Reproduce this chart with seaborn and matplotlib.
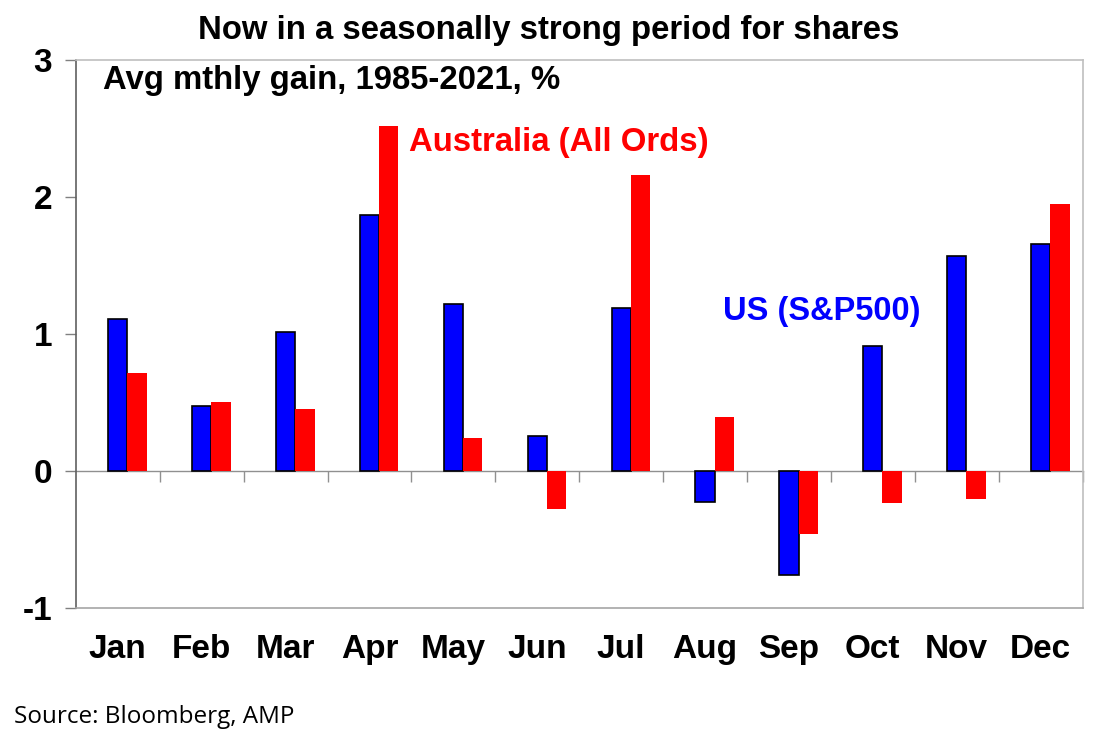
import numpy as np
import pandas as pd
import matplotlib
matplotlib.use("Agg")
import matplotlib.pyplot as plt
import seaborn as sns

months = ["Jan", "Feb", "Mar", "Apr", "May", "Jun", "Jul", "Aug", "Sep", "Oct", "Nov", "Dec"]
us_sp500 = [1.11, 0.47, 1.01, 1.87, 1.22, 0.25, 1.185, -0.23, -0.76, 0.91, 1.57, 1.655]
au_allords = [0.71, 0.50, 0.45, 2.52, 0.24, -0.28, 2.16, 0.39, -0.46, -0.24, -0.21, 1.95]
yticks = [-1, 0, 1, 2, 3]

US_LBL = "US (S&P500)"
AU_LBL = "Australia (All Ords)"
PAD = "_pad"

df = pd.concat([
    pd.DataFrame({"month": months, "series": PAD, "value": 0.0}),
    pd.DataFrame({"month": months, "series": US_LBL, "value": us_sp500}),
    pd.DataFrame({"month": months, "series": AU_LBL, "value": au_allords}),
], ignore_index=True)

sns.set_theme(style="white")
plt.rcParams["font.family"] = ["Liberation Sans", "DejaVu Sans"]

fig = plt.figure(figsize=(11.16, 7.5), dpi=100)
ax = fig.add_axes([0.068, 0.19, 0.902, 0.73])

sns.barplot(data=df, x="month", y="value", hue="series",
            hue_order=[PAD, US_LBL, AU_LBL],
            palette=["white", "#0000FF", "#FF0000"],
            width=0.69, dodge=True, saturation=1, errorbar=None,
            legend=False, ax=ax)

# remove the padding series, style edges
for p in list(ax.containers[0]):
    p.remove()
for p in ax.containers[1]:
    p.set_edgecolor("black")
    p.set_linewidth(1.2)
for p in ax.containers[2]:
    p.set_linewidth(0)

ax.set_xlim(-0.5, 11.5)
ax.set_ylim(-1, 3)
ax.set_yticks(yticks)
ax.set_yticklabels([str(v) for v in yticks], fontsize=24, fontweight="bold", color="black")
ax.set_xticks(range(len(months)))
ax.set_xticklabels(months, fontsize=24, fontweight="bold", color="black")
ax.set_xlabel("")
ax.set_ylabel("")
ax.tick_params(axis="y", direction="out", length=8, width=1, color="#808080", pad=9, left=True)
ax.tick_params(axis="x", length=0, pad=19)

for s in ["top", "right"]:
    ax.spines[s].set_color("#BFBFBF")
    ax.spines[s].set_linewidth(1.2)
ax.spines["left"].set_color("#606060")
ax.spines["left"].set_linewidth(1.2)
ax.spines["bottom"].set_color("#A6A6A6")
ax.spines["bottom"].set_linewidth(1.2)

# zero line with category-boundary tick marks
zero_ax = ax.secondary_xaxis(0.25)
zero_ax.set_xticks(np.arange(0.5, 12.0, 1.0))
zero_ax.set_xticklabels([])
zero_ax.tick_params(axis="x", direction="out", length=8, width=1, color="#909090")
zero_ax.spines["bottom"].set_color("#909090")
zero_ax.spines["bottom"].set_linewidth(1.0)

fig.text(0.4915, 1 - 30 / 750, "Now in a seasonally strong period for shares",
         ha="center", va="center", fontsize=23.7, fontweight="bold", color="black")
fig.text(103 / 1116, 1 - 80 / 750, "Avg mthly gain, 1985-2021, %",
         ha="left", va="center", fontsize=23.7, fontweight="bold", color="black")
fig.text(409 / 1116, 1 - 143 / 750, AU_LBL,
         ha="left", va="center", fontsize=23.7, fontweight="bold", color="#FF0000")
fig.text(723 / 1116, 1 - 312 / 750, US_LBL,
         ha="left", va="center", fontsize=23.5, fontweight="bold", color="#0000FF")
fig.text(14 / 1116, 1 - 717 / 750, "Source: Bloomberg, AMP",
         ha="left", va="center", fontsize=17.5, color="black",
         family=["Open Sans", "DejaVu Sans"])

fig.savefig("out.png", dpi=100, facecolor="white")
